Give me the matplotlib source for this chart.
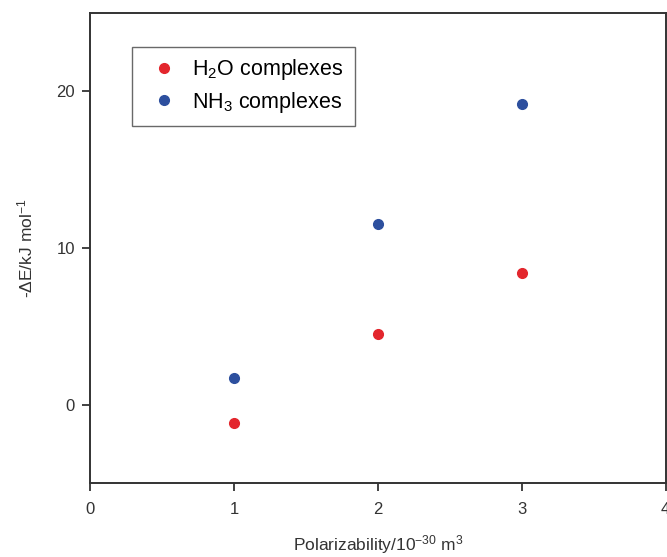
import matplotlib
matplotlib.use('Agg')
import matplotlib.pyplot as plt
from matplotlib import font_manager

# polarizability (10^-30 m^3) and -dE (kJ/mol)
polarizability = [1, 2, 3]
h2o_energy = [-1.2, 4.5, 8.4]
nh3_energy = [1.7, 11.5, 19.2]

x_ticks = [0, 1, 2, 3, 4]
y_ticks = [0, 10, 20]

plt.rcParams['font.family'] = ['Liberation Sans', 'DejaVu Sans']
plt.rcParams['mathtext.fontset'] = 'custom'
plt.rcParams['mathtext.rm'] = 'Liberation Sans'
plt.rcParams['mathtext.it'] = 'Liberation Sans:italic'

# axis titles in the original look condensed
names = {f.name for f in font_manager.fontManager.ttflist}
if 'Liberation Sans Narrow' in names:
    label_font = dict(family='Liberation Sans Narrow', fontsize=15)
else:
    label_font = dict(family='Liberation Sans', fontsize=12.5)

fig = plt.figure(figsize=(6.67, 5.57), dpi=100)
ax = fig.add_axes([0.135, 0.133, 0.863, 0.844])

ax.plot(polarizability, h2o_energy, 'o', color='#e3262d', markersize=7,
        label='H$_2$O complexes')
ax.plot(polarizability, nh3_energy, 'o', color='#2d4f9e', markersize=7,
        label='NH$_3$ complexes')

ax.set_xlim(0, 4)
ax.set_ylim(-5, 25)
ax.set_xticks(x_ticks)
ax.set_yticks(y_ticks)
ax.tick_params(direction='out', length=6, width=1.3, labelsize=12,
               colors='#333333', top=False, right=False)
ax.tick_params(axis='x', pad=8)
ax.tick_params(axis='y', pad=5)

for s in ax.spines.values():
    s.set_linewidth(1.4)
    s.set_color('#333333')

ax.set_xlabel('Polarizability/10$^{-30}$ m$^3$', color='#333333', labelpad=11, **label_font)
ax.set_ylabel('-ΔE/kJ mol$^{-1}$', color='#333333', labelpad=15, **label_font)

leg = ax.legend(loc='upper left', bbox_to_anchor=(0.073, 0.928), borderaxespad=0,
                fontsize=15.5, frameon=True, fancybox=False, handletextpad=0.3,
                borderpad=0.5, labelspacing=0.35, handlelength=2.0)
leg.get_frame().set_edgecolor('#444444')
leg.get_frame().set_linewidth(1.0)

plt.savefig('out.png', dpi=100)
